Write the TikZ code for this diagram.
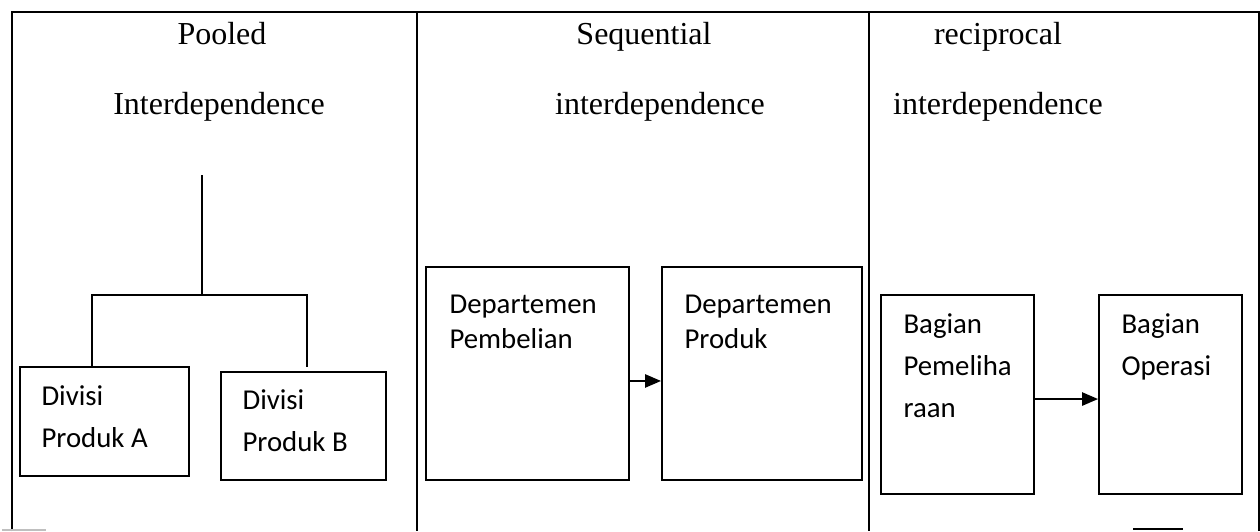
\documentclass[tikz,border=0pt]{standalone}
\usepackage{fontspec}
\setmainfont{Liberation Serif}
\newfontfamily\calibri{Carlito}
\usetikzlibrary{arrows.meta}

\tikzset{
  garis/.style={line width=0.45pt},
  kotak/.style={draw, line width=0.75pt, inner sep=0pt},
  judul/.style={anchor=base, font=\fontsize{12}{14}\selectfont},
  isi/.style={anchor=base west, align=left, inner sep=0pt},
  panah/.style={line width=0.6pt, -{Triangle[length=6pt,width=5pt]}},
}

\begin{document}
\begin{tikzpicture}[x=0.375pt, y=-0.375pt]
\useasboundingbox (0,0) rectangle (1260,531);

% ── Tabel ─────────────────────────────────────────────────────
\draw[garis] (12,531) -- (12,12) -- (26,12);
\draw[line width=1pt] (26,12) -- (1127,12);
\draw[garis] (1127,12) -- (1259,12) -- (1259,531);
\draw[garis] (417,12) -- (417,531);
\draw[garis] (869,12) -- (869,531);
\draw[gray!50, line width=0.6pt] (2,530) -- (46,530);   % sisa garis bawah
\draw[line width=0.5pt] (1133,529) -- (1183,529);

% ── Pooled ────────────────────────────────────────────────────
% (isi: anchor base = baris terakhir)
\node[judul] (pooled) at (222,45)  {Pooled};
\node[judul] (interA) at (219,115) {Interdependence};

\node[kotak, minimum width=63.4pt, minimum height=40.9pt] (divA) at (104.5,421.5) {};
\node[kotak, minimum width=61.9pt, minimum height=40.5pt] (divB) at (303.5,426) {};
\node[isi, font=\calibri\fontsize{10.8}{15.75}\selectfont] (tA) at (41,447)  {Divisi\\Produk A};
\node[isi, font=\calibri\fontsize{10.8}{15.75}\selectfont] (tB) at (242,451) {Divisi\\Produk B};

% cabang pohon
\coordinate (puncak) at (202,175);
\coordinate (cabang) at (202,295);
\coordinate (kiri)   at (92,295);
\coordinate (kanan)  at (307,295);
\coordinate (ujungB) at (307,367);
\draw[line width=0.6pt] (puncak) -- (cabang);
\draw[line width=0.6pt] (kiri |- divA.north) -- (kiri) -- (kanan) -- (ujungB);

% ── Sequential ────────────────────────────────────────────────
\node[judul] (seq)    at (644,45)  {Sequential};
\node[judul] (interB) at (660,115) {interdependence};

\node[kotak, minimum width=76.1pt, minimum height=79.9pt] (beli)   at (527.5,373.5) {};
\node[kotak, minimum width=75pt,   minimum height=79.9pt] (produk) at (762,373.5) {};
\node[isi, font=\calibri\fontsize{10.8}{13.1}\selectfont] (tBeli)   at (449,348) {Departemen\\Pembelian};
\node[isi, font=\calibri\fontsize{10.8}{13.1}\selectfont] (tProduk) at (684,348) {Departemen\\Produk};

\draw[panah] ([yshift=-2.8pt]beli.east) -- ([yshift=-2.8pt]produk.west);

% ── Reciprocal ────────────────────────────────────────────────
\node[judul] (reci)   at (998,45)  {reciprocal};
\node[judul] (interC) at (998,115) {interdependence};

\node[kotak, minimum width=57.4pt, minimum height=74.6pt] (pelihara) at (957.5,394.5) {};
\node[kotak, minimum width=53.6pt, minimum height=74.6pt] (operasi)  at (1170.5,394.5) {};
\node[isi, font=\calibri\fontsize{10.8}{15.75}\selectfont] (tPelihara) at (903,417)  {Bagian\\Pemeliha\\raan};
\node[isi, font=\calibri\fontsize{10.8}{15.75}\selectfont] (tOperasi)  at (1121,375) {Bagian\\Operasi};

\draw[panah] ([yshift=-1.7pt]pelihara.east) -- ([yshift=-1.7pt]operasi.west);

\end{tikzpicture}
\end{document}
